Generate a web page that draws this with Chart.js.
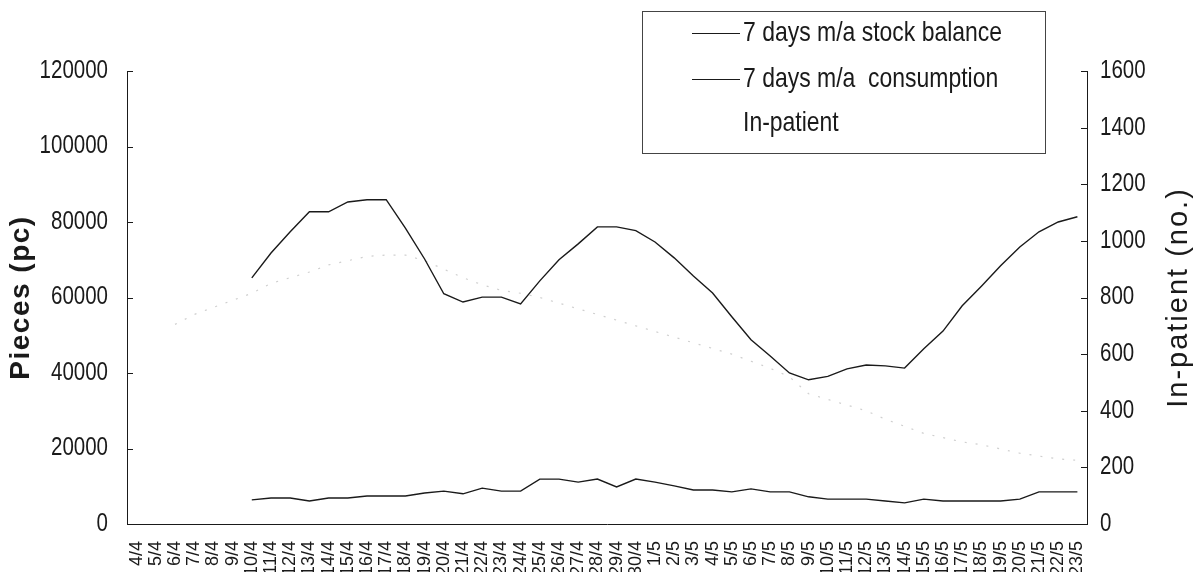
<!DOCTYPE html>
<html>
<head>
<meta charset="utf-8">
<script src="https://cdn.jsdelivr.net/npm/chart.js@4.4.1/dist/chart.umd.min.js"></script>
<style>
  html, body { margin: 0; padding: 0; background: #fff; }
  #wrap { width: 1204px; height: 572px; position: relative; }
</style>
</head>
<body>
<div id="wrap"><canvas id="myChart"></canvas></div>
<script>
const days = [
  "4/4", "5/4", "6/4", "7/4", "8/4", "9/4", "10/4", "11/4", "12/4", "13/4",
  "14/4", "15/4", "16/4", "17/4", "18/4", "19/4", "20/4", "21/4", "22/4", "23/4",
  "24/4", "25/4", "26/4", "27/4", "28/4", "29/4", "30/4", "1/5", "2/5", "3/5",
  "4/5", "5/5", "6/5", "7/5", "8/5", "9/5", "10/5", "11/5", "12/5", "13/5",
  "14/5", "15/5", "16/5", "17/5", "18/5", "19/5", "20/5", "21/5", "22/5", "23/5",
];

const stockBalance = [
  null, null, null, null, null, null,
  65200, 71800, 77400, 82700, 82700, 85300, 85900, 85900, 78400, 70200,
  61000, 58800, 60100, 60100, 58300, 64400, 70000, 74200, 78700, 78700,
  77700, 74700, 70500, 65700, 61200, 54900, 48800, 44500, 40000, 38200,
  39100, 41100, 42100, 41900, 41300, 46400, 51100, 57800, 63000, 68400,
  73400, 77400, 80000, 81400,
];

const consumption = [
  null, null, null, null, null, null,
  6400, 6900, 6900, 6100, 6900, 6900, 7400, 7400, 7400, 8200,
  8700, 8000, 9500, 8700, 8700, 11900, 11900, 11100, 11900, 9800,
  11900, 11100, 10100, 9000, 9000, 8500, 9300, 8500, 8500, 7200,
  6600, 6600, 6600, 6100, 5600, 6600, 6100, 6100, 6100, 6100,
  6600, 8500, 8500, 8500,
];

const inPatient = [
  null, null, 705, 740, 765, 790, 815, 850, 870, 890,
  915, 930, 945, 950, 950, 930, 900, 870, 845, 825,
  815, 800, 780, 760, 740, 720, 700, 680, 660, 640,
  620, 600, 575, 550, 520, 460, 440, 420, 400, 370,
  345, 320, 305, 290, 280, 265, 250, 240, 230, 225,
];

const seriesNames = ["7 days m/a stock balance", "7 days m/a  consumption", "In-patient"];
const leftTitle = "Pieces (pc)";
const rightTitle = "In-patient (no.)";

const ink = "#1a1a1a";
const faint = "#cfcfcf";
const sans = "'Liberation Sans', Arial, sans-serif";
const squeeze = 0.82; // no narrow face installed, so squash Liberation Sans

// condensed text helper
function narrowText(ctx, text, x, y, align) {
  ctx.save();
  ctx.translate(x, y);
  ctx.scale(squeeze, 1);
  ctx.textAlign = align;
  ctx.fillText(text, 0, 0);
  ctx.restore();
}

// value axis labels, inward tick marks and axis titles
const axisDecor = {
  id: "axisDecor",
  afterDraw(chart) {
    const ctx = chart.ctx;
    const yl = chart.scales.y;
    const yr = chart.scales.y1;
    ctx.save();
    ctx.strokeStyle = ink;
    ctx.lineWidth = 1;
    ctx.beginPath();
    yl.ticks.forEach((t) => {
      const py = Math.round(yl.getPixelForValue(t.value)) + 0.5;
      ctx.moveTo(yl.right, py);
      ctx.lineTo(yl.right + 6, py);
    });
    yr.ticks.forEach((t) => {
      const py = Math.round(yr.getPixelForValue(t.value)) + 0.5;
      ctx.moveTo(yr.left - 6, py);
      ctx.lineTo(yr.left, py);
    });
    ctx.stroke();

    ctx.fillStyle = ink;
    ctx.font = "25px " + sans;
    ctx.textBaseline = "middle";
    yl.ticks.forEach((t) => {
      narrowText(ctx, String(t.value), yl.right - 19, yl.getPixelForValue(t.value), "right");
    });
    yr.ticks.forEach((t) => {
      narrowText(ctx, String(t.value), yr.left + 13, yr.getPixelForValue(t.value), "left");
    });

    // both titles read bottom to top
    const midY = (yl.top + yl.bottom) / 2;
    ctx.textAlign = "center";
    ctx.save();
    ctx.font = "bold 28px " + sans;
    ctx.letterSpacing = "1.5px";
    ctx.translate(21, midY);
    ctx.rotate(-Math.PI / 2);
    ctx.fillText(leftTitle, 0, 0);
    ctx.restore();

    ctx.save();
    ctx.font = "29px " + sans;
    ctx.letterSpacing = "2px";
    ctx.translate(1179, midY);
    ctx.rotate(-Math.PI / 2);
    ctx.fillText(rightTitle, 0, 0);
    ctx.restore();
    ctx.restore();
  },
};

// boxed legend sitting over the top right of the plot
const boxLegend = {
  id: "boxLegend",
  afterDraw(chart) {
    const ctx = chart.ctx;
    ctx.save();
    ctx.fillStyle = "#fff";
    ctx.fillRect(642, 11, 403, 142);
    ctx.strokeStyle = "#444";
    ctx.lineWidth = 1;
    ctx.strokeRect(642.5, 11.5, 403, 142);
    const rows = [33, 79, 123];
    ctx.font = "28px " + sans;
    ctx.textBaseline = "middle";
    chart.data.datasets.forEach((ds, i) => {
      const y = rows[i] + 0.5;
      if (!ds.borderDash) {
        ctx.strokeStyle = ds.borderColor;
        ctx.lineWidth = 1;
        ctx.beginPath();
        ctx.moveTo(692, y);
        ctx.lineTo(740, y);
        ctx.stroke();
      }
      ctx.fillStyle = ink;
      narrowText(ctx, ds.label, 743, rows[i], "left");
    });
    ctx.restore();
  },
};

const data = {
  labels: days,
  datasets: [
    {
      label: seriesNames[0],
      data: stockBalance,
      yAxisID: "y",
      borderColor: ink,
      borderWidth: 1.4,
      pointRadius: 0,
      tension: 0,
    },
    {
      label: seriesNames[1],
      data: consumption,
      yAxisID: "y",
      borderColor: ink,
      borderWidth: 1.4,
      pointRadius: 0,
      tension: 0,
    },
    {
      label: seriesNames[2],
      data: inPatient,
      yAxisID: "y1",
      borderColor: faint,
      borderWidth: 1.2,
      borderDash: [2, 9],
      pointRadius: 0,
      tension: 0,
    },
  ],
};

const config = {
  type: "line",
  data: data,
  options: {
    responsive: true,
    maintainAspectRatio: false,
    animation: false,
    layout: { padding: { top: 71, left: 0, right: 0, bottom: 0 } },
    scales: {
      x: {
        offset: true,
        grid: { display: false },
        border: { display: true, color: ink, width: 1 },
        ticks: {
          autoSkip: false,
          maxRotation: 90,
          minRotation: 90,
          padding: 9,
          color: ink,
          font: { family: sans, size: 18 },
        },
        afterFit: (scale) => { scale.height = 48; },
      },
      y: {
        position: "left",
        min: 0,
        max: 120000,
        grid: { display: false, drawTicks: false },
        border: { display: true, color: ink, width: 1 },
        ticks: { stepSize: 20000, display: false },
        afterFit: (scale) => { scale.width = 127; },
      },
      y1: {
        position: "right",
        min: 0,
        max: 1600,
        grid: { display: false, drawTicks: false },
        border: { display: true, color: ink, width: 1 },
        ticks: { stepSize: 200, display: false },
        afterFit: (scale) => { scale.width = 117; },
      },
    },
    plugins: {
      legend: { display: false },
      tooltip: { enabled: false },
    },
  },
  plugins: [axisDecor, boxLegend],
};

const myLineChart = new Chart(document.getElementById("myChart").getContext("2d"), config);
</script>
</body>
</html>
